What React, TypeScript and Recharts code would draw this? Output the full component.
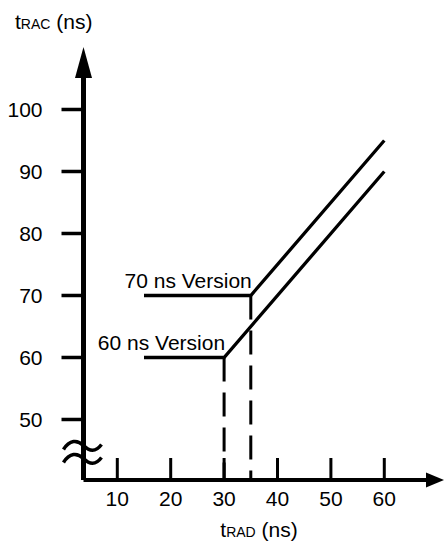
import { LineChart, Line, XAxis, YAxis, ReferenceLine, ReferenceDot } from "recharts";

// tRAD (ns) at the three corners of each curve
const T_RAD_70 = [15, 35, 60];
const T_RAC_70 = [70, 70, 95];
const T_RAD_60 = [15, 30, 60];
const T_RAC_60 = [60, 60, 90];

const SERIES_NAMES = ["70 ns Version", "60 ns Version"];
const X_TICKS = [10, 20, 30, 40, 50, 60];
const Y_TICKS = [50, 60, 70, 80, 90, 100];

const X_DOMAIN: [number, number] = [3.67, 68.56];
const Y_DOMAIN: [number, number] = [40.24, 106.37];

const FONT = "'Liberation Sans', Arial, Helvetica, sans-serif";
const FS = 21;

const v70 = T_RAD_70.map((x, i) => ({ x, t: T_RAC_70[i] }));
const v60 = T_RAD_60.map((x, i) => ({ x, t: T_RAC_60[i] }));

const XTick = ({ x, y, payload }: any) => (
  <g>
    <line x1={x} x2={x} y1={y - 22} y2={y} stroke="#000" strokeWidth={3} />
    <text x={x} y={y + 26} textAnchor="middle" fontSize={FS} fontFamily={FONT} fill="#000">
      {payload.value}
    </text>
  </g>
);

const elbowLabel = (name: string) => (props: any) => {
  if (props.index !== 1) return null;
  return (
    <text
      x={props.x + 1}
      y={props.y - 7}
      textAnchor="end"
      fontSize={FS}
      fontFamily={FONT}
      fill="#000"
    >
      {name}
    </text>
  );
};

const YArrow = ({ cx, cy }: any) => (
  <polygon points={`${cx},${cy - 23} ${cx - 8.5},${cy + 8} ${cx + 8.5},${cy + 8}`} fill="#000" />
);

const XArrow = ({ cx, cy }: any) => (
  <polygon points={`${cx + 14},${cy} ${cx - 4},${cy - 7.5} ${cx - 4},${cy + 7.5}`} fill="#000" />
);

// axis break: two tildes across the y axis
const AxisBreak = ({ cx, cy }: any) => (
  <g fill="none" stroke="#000" strokeWidth={3.5}>
    <path d={`M${cx - 20},${cy - 1} C${cx - 14},${cy - 11} ${cx - 6},${cy - 11} ${cx},${cy - 5} S${cx + 12},${cy + 2} ${cx + 18},${cy - 6}`} />
    <path d={`M${cx - 20},${cy + 12} C${cx - 14},${cy + 2} ${cx - 6},${cy + 2} ${cx},${cy + 8} S${cx + 12},${cy + 15} ${cx + 18},${cy + 7}`} />
  </g>
);

export default function App() {
  return (
    <div style={{ position: "absolute", left: 0, top: 0, width: 444, height: 552, background: "#fff" }}>
      <svg width={444} height={552} style={{ position: "absolute", left: 0, top: 0 }}>
        <text x={15} y={29} fontFamily={FONT} fontSize={FS} fill="#000">
          t<tspan fontSize={14}>RAC</tspan> (ns)
        </text>
        <text x={259} y={537} textAnchor="middle" fontFamily={FONT} fontSize={FS} fill="#000">
          t<tspan fontSize={14}>RAD</tspan> (ns)
        </text>
      </svg>
      <div style={{ position: "absolute", left: 0, top: 0 }}>
        <LineChart width={444} height={552} margin={{ top: 70, right: 14, bottom: 0, left: 0 }}>
          <XAxis
            dataKey="x"
            type="number"
            domain={X_DOMAIN}
            allowDataOverflow
            ticks={X_TICKS}
            interval={0}
            height={72}
            tickSize={0}
            tickMargin={0}
            tickLine={false}
            axisLine={{ stroke: "#000", strokeWidth: 4 }}
            tick={<XTick />}
          />
          <YAxis
            type="number"
            domain={Y_DOMAIN}
            allowDataOverflow
            ticks={Y_TICKS}
            interval={0}
            width={83.5}
            tickSize={22}
            tickMargin={19}
            tickLine={{ stroke: "#000", strokeWidth: 3.5 }}
            axisLine={{ stroke: "#000", strokeWidth: 5 }}
            tick={{ fill: "#000", fontSize: FS, fontFamily: FONT }}
          />
          <ReferenceLine
            segment={[{ x: T_RAD_60[1], y: T_RAC_60[1] }, { x: T_RAD_60[1], y: Y_DOMAIN[0] }]}
            stroke="#000"
            strokeWidth={3}
            strokeDasharray="24 11"
            ifOverflow="visible"
          />
          <ReferenceLine
            segment={[{ x: T_RAD_70[1], y: T_RAC_70[1] }, { x: T_RAD_70[1], y: Y_DOMAIN[0] }]}
            stroke="#000"
            strokeWidth={3}
            strokeDasharray="24 11"
            ifOverflow="visible"
          />
          <Line
            data={v70}
            dataKey="t"
            type="linear"
            stroke="#000"
            strokeWidth={3.3}
            dot={false}
            isAnimationActive={false}
            label={elbowLabel(SERIES_NAMES[0])}
          />
          <Line
            data={v60}
            dataKey="t"
            type="linear"
            stroke="#000"
            strokeWidth={3.3}
            dot={false}
            isAnimationActive={false}
            label={elbowLabel(SERIES_NAMES[1])}
          />
          <ReferenceDot x={X_DOMAIN[0]} y={Y_DOMAIN[1]} ifOverflow="visible" shape={<YArrow />} />
          <ReferenceDot x={X_DOMAIN[1]} y={Y_DOMAIN[0]} ifOverflow="visible" shape={<XArrow />} />
          <ReferenceDot x={X_DOMAIN[0]} y={45} ifOverflow="visible" shape={<AxisBreak />} />
        </LineChart>
      </div>
    </div>
  );
}
